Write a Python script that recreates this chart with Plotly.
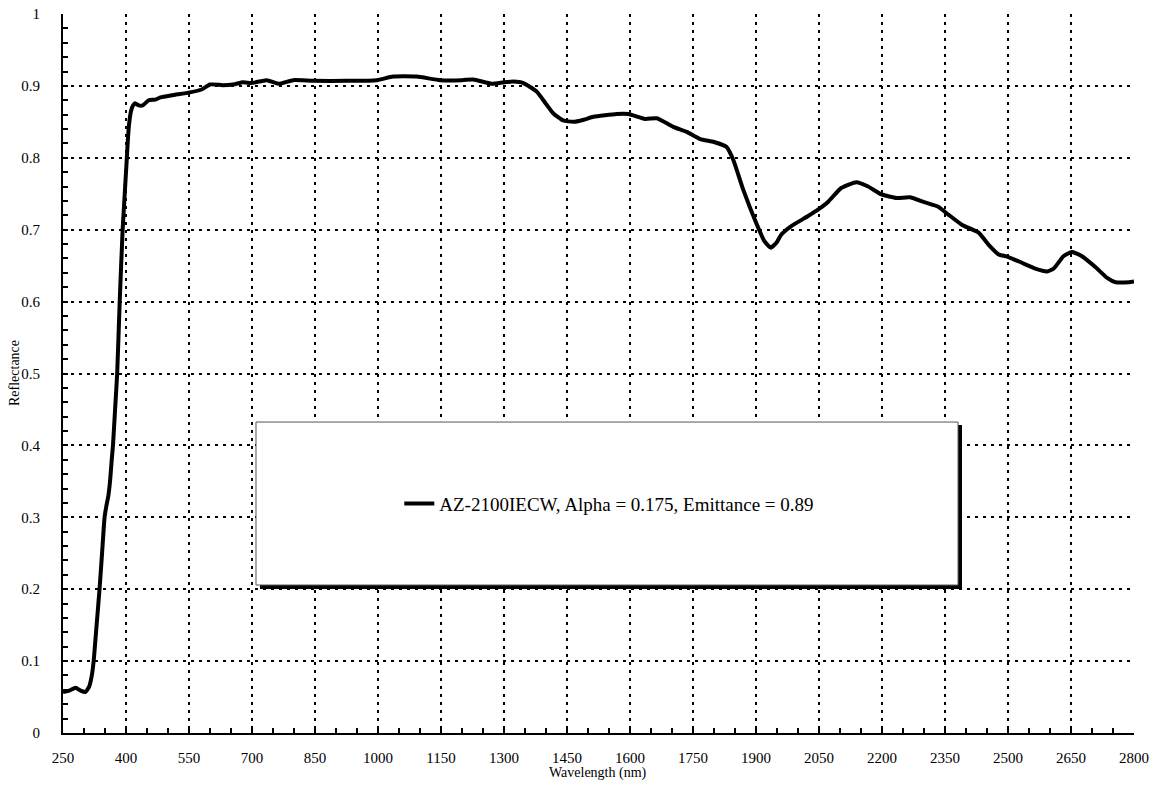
import plotly.graph_objects as go

wavelength = [250, 265, 280, 292, 303, 312, 318, 323, 330, 337, 343, 349, 353, 358, 362, 366, 369, 374,
              379, 385, 392, 397, 402, 405, 408, 412, 416, 422, 430, 440, 454, 470, 482, 510, 552, 580,
              600, 630, 655, 679, 699, 735, 763, 798, 846, 925, 997, 1036, 1092, 1148, 1200, 1227, 1271,
              1300, 1322, 1346, 1378, 1400, 1417, 1441, 1465, 1490, 1513, 1568, 1596, 1636, 1664, 1703,
              1735, 1767, 1800, 1830, 1846, 1870, 1900, 1920, 1935, 1950, 1960, 1984, 2024, 2050, 2072,
              2103, 2139, 2167, 2199, 2235, 2266, 2302, 2334, 2358, 2390, 2430, 2454, 2477, 2501, 2533,
              2565, 2593, 2609, 2632, 2652, 2676, 2708, 2736, 2756, 2788, 2800]
reflectance = [0.057, 0.059, 0.063, 0.059, 0.057, 0.064, 0.078, 0.10, 0.15, 0.20, 0.25, 0.30, 0.315, 0.33,
               0.35, 0.38, 0.40, 0.45, 0.50, 0.60, 0.70, 0.75, 0.80, 0.83, 0.85, 0.865, 0.872, 0.876, 0.873,
               0.873, 0.880, 0.881, 0.884, 0.887, 0.891, 0.895, 0.902, 0.901, 0.902, 0.905, 0.904, 0.908,
               0.903, 0.908, 0.907, 0.907, 0.908, 0.913, 0.913, 0.908, 0.908, 0.909, 0.903, 0.905, 0.906,
               0.904, 0.892, 0.875, 0.862, 0.852, 0.850, 0.853, 0.857, 0.861, 0.861, 0.854, 0.855, 0.843,
               0.836, 0.826, 0.822, 0.815, 0.797, 0.755, 0.710, 0.684, 0.675, 0.683, 0.693, 0.705, 0.719,
               0.729, 0.739, 0.758, 0.766, 0.760, 0.749, 0.744, 0.745, 0.738, 0.732, 0.721, 0.707, 0.696,
               0.679, 0.666, 0.662, 0.654, 0.646, 0.642, 0.646, 0.663, 0.669, 0.663, 0.648, 0.633, 0.627,
               0.627, 0.628]
series_name = "AZ-2100IECW, Alpha = 0.175, Emittance = 0.89"
x_title = "Wavelength (nm)"
y_title = "Reflectance"
x_ticks = list(range(250, 2801, 150))
y_ticks = [round(i * 0.1, 1) for i in range(11)]
y_tick_text = ["0"] + [f"{v:g}" for v in y_ticks[1:]]

FONT = "Liberation Serif, Times New Roman, serif"

fig = go.Figure()
fig.add_trace(go.Scatter(
    x=wavelength, y=reflectance, mode="lines", name=series_name,
    line=dict(color="black", width=4, shape="spline", smoothing=0.5),
    showlegend=True,
))

grid = dict(showgrid=True, gridcolor="black", gridwidth=2, griddash="3px,5px")

fig.update_layout(
    width=1154, height=795,
    margin=dict(l=63, r=20, t=14, b=62, autoexpand=False),
    paper_bgcolor="white", plot_bgcolor="white",
    font=dict(family=FONT, color="black", size=15),
    showlegend=True,
    legend=dict(x=0.314, y=0.319, xanchor="left", yanchor="middle",
                bgcolor="rgba(0,0,0,0)", borderwidth=0,
                font=dict(family=FONT, size=19, color="black")),
    xaxis=dict(range=[250, 2800], tickvals=x_ticks, ticktext=[str(v) for v in x_ticks],
               automargin=False,
               showline=True, linecolor="black", linewidth=2,
               ticks="inside", ticklen=5, tickwidth=1.5, tickcolor="black",
               minor=dict(dtick=50, ticks="inside", ticklen=5, tickwidth=1.5, tickcolor="black", showgrid=False),
               zeroline=False,
               tickfont=dict(family=FONT, size=15), ticklabelstandoff=10,
               **grid),
    yaxis=dict(range=[0, 1], tickvals=y_ticks, ticktext=y_tick_text,
               automargin=False,
               showline=True, linecolor="black", linewidth=2,
               ticks="inside", ticklen=5, tickwidth=1.5, tickcolor="black",
               minor=dict(dtick=0.02, ticks="inside", ticklen=5, tickwidth=1.5, tickcolor="black", showgrid=False),
               zeroline=False,
               tickfont=dict(family=FONT, size=15), ticklabelstandoff=18,
               **grid),
)

# axis titles
fig.add_annotation(text=x_title, xref="paper", yref="paper", x=0.4995, y=-0.0556,
                   xanchor="center", yanchor="middle", showarrow=False,
                   font=dict(family=FONT, size=14, color="black"))
fig.add_annotation(text=y_title, xref="paper", yref="paper", x=-0.0448, y=0.5007,
                   xanchor="center", yanchor="middle", showarrow=False, textangle=-90,
                   font=dict(family=FONT, size=14, color="black"))

# legend frame with drop shadow
fig.add_shape(type="rect", xref="paper", yref="paper", x0=0.1839, x1=0.8394, y0=0.2003, y1=0.4284,
              line=dict(width=0), fillcolor="black", layer="above")
fig.add_shape(type="rect", xref="paper", yref="paper", x0=0.1802, x1=0.8357, y0=0.2058, y1=0.4325,
              line=dict(width=1, color="#555"), fillcolor="white", layer="above")

fig.write_html("out.html")
